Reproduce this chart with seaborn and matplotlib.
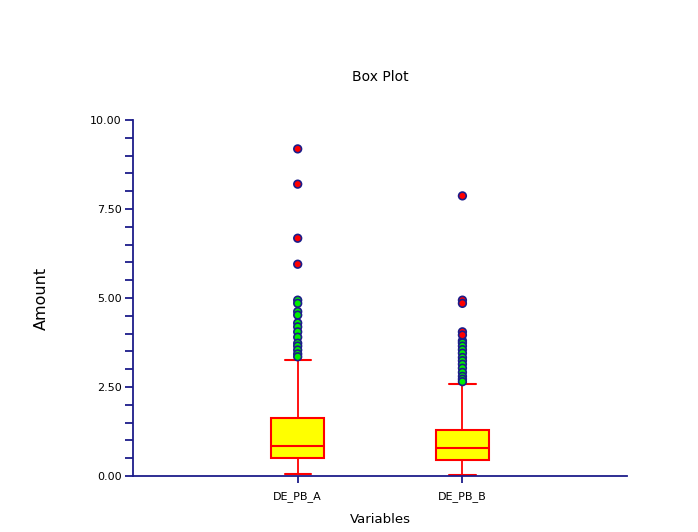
import matplotlib
matplotlib.use("Agg")
import matplotlib.pyplot as plt
import seaborn as sns
import pandas as pd
from matplotlib.ticker import MultipleLocator, FormatStrFormatter

categories = ["DE_PB_A", "DE_PB_B"]
q1 = [0.50, 0.45]
median = [0.84, 0.78]
q3 = [1.62, 1.29]
whisker_low = [0.05, 0.03]
whisker_high = [3.26, 2.58]

far_A = [9.19, 8.20, 6.68, 5.95]
near_A = [4.94, 4.85, 4.62, 4.52, 4.30, 4.19, 4.05, 3.90, 3.73, 3.65, 3.54, 3.43, 3.35]
far_B = [7.87, 4.94, 4.85, 4.05, 3.96]
near_B = [3.80, 3.74, 3.65, 3.55, 3.45, 3.33, 3.24, 3.14, 3.03, 2.91, 2.80, 2.72, 2.65]

sns.set_style("white")
plt.rcParams["font.family"] = ["DejaVu Sans"]
plt.rcParams["text.color"] = "black"
plt.rcParams["axes.labelcolor"] = "black"
plt.rcParams["xtick.labelcolor"] = "black"
plt.rcParams["ytick.labelcolor"] = "black"

navy = "#1c1c8a"
fig = plt.figure(figsize=(6.98, 5.32), dpi=100)
ax = fig.add_axes([0.1905, 0.1053, 0.708, 0.669])

stats = []
for i, c in enumerate(categories):
    stats.append(dict(label=c, med=median[i], q1=q1[i], q3=q3[i],
                      whislo=whisker_low[i], whishi=whisker_high[i], fliers=[]))
ax.bxp(stats, positions=[0, 1], widths=0.32, patch_artist=True, showfliers=False,
       boxprops=dict(facecolor="#ffff00", edgecolor="#ff0000", linewidth=1.5),
       medianprops=dict(color="#ff0000", linewidth=1.5),
       whiskerprops=dict(color="#ff0000", linewidth=1.3),
       capprops=dict(color="#ff0000", linewidth=1.5))

rows = []
for v in near_A:
    rows.append((categories[0], v, "near"))
for v in far_A:
    rows.append((categories[0], v, "far"))
for v in near_B:
    rows.append((categories[1], v, "near"))
for v in far_B:
    rows.append((categories[1], v, "far"))
df = pd.DataFrame(rows, columns=["Variables", "Amount", "kind"])

sns.stripplot(data=df, x="Variables", y="Amount", hue="kind", order=categories,
              palette={"near": "#00ee00", "far": "#ff0000"}, jitter=False,
              size=5.5, edgecolor=navy, linewidth=1.2, ax=ax, legend=False, zorder=5)

ax.set_xlim(-1, 2)
ax.set_ylim(0, 10)
ax.set_xticks([0, 1])
ax.set_xticklabels(categories)
ax.yaxis.set_major_locator(MultipleLocator(2.5))
ax.yaxis.set_minor_locator(MultipleLocator(0.5))
ax.yaxis.set_major_formatter(FormatStrFormatter("%.2f"))

for s in ["top", "right"]:
    ax.spines[s].set_visible(False)
for s in ["left", "bottom"]:
    ax.spines[s].set_color(navy)
    ax.spines[s].set_linewidth(1.3)

ax.tick_params(axis="y", which="major", direction="out", length=6, width=1.3,
               color=navy, labelsize=8, pad=2, left=True)
ax.tick_params(axis="y", which="minor", direction="out", length=6, width=1.3,
               color=navy, left=True)
ax.tick_params(axis="x", which="major", direction="out", length=5, width=1.3,
               color=navy, labelsize=8, pad=6, bottom=True)

ax.set_xlabel("Variables", fontsize=9.5, labelpad=8)
ax.set_ylabel("Amount", fontsize=11.5, labelpad=30)
ax.set_title("Box Plot", fontsize=10, pad=28)

fig.savefig("out.png", dpi=100, facecolor="white")
